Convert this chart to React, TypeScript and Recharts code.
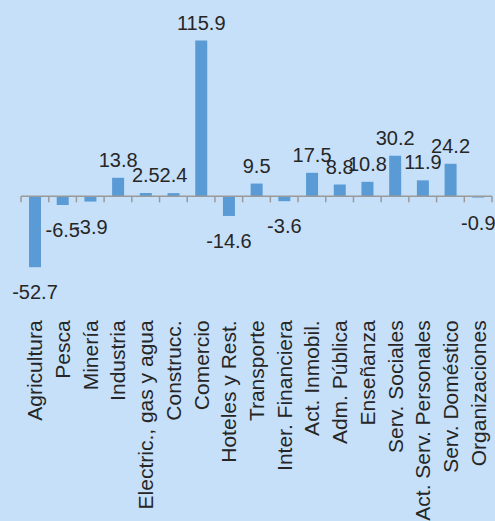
import React from 'react';
import { BarChart, Bar, XAxis, YAxis, ReferenceLine, LabelList } from 'recharts';

// Sectores y variación
const SECTORES = [
  'Agricultura',
  'Pesca',
  'Minería',
  'Industria',
  'Electric., gas y agua',
  'Construcc.',
  'Comercio',
  'Hoteles y Rest.',
  'Transporte',
  'Inter. Financiera',
  'Act. Inmobil.',
  'Adm. Pública',
  'Enseñanza',
  'Serv. Sociales',
  'Act. Serv. Personales',
  'Serv. Doméstico',
  'Organizaciones',
];
const VARIACION = [-52.7, -6.5, -3.9, 13.8, 2.5, 2.4, 115.9, -14.6, 9.5, -3.6, 17.5, 8.8, 10.8, 30.2, 11.9, 24.2, -0.9];
const Y_DOMAIN = [-60, 120];

const data = SECTORES.map((name, i) => ({ name, value: VARIACION[i] }));

const W = 495;
const H = 521;
const M = { top: 35, right: 3, bottom: 0, left: 21 };
const X_AXIS_H = 244;
const PLOT_W = W - M.left - M.right;
const PLOT_H = H - M.top - M.bottom - X_AXIS_H;
const BAND = PLOT_W / SECTORES.length;
const ZERO_Y = M.top + PLOT_H * (Y_DOMAIN[1] / (Y_DOMAIN[1] - Y_DOMAIN[0]));
const LABEL_Y = ZERO_Y + 124;

const FONT = '"Liberation Sans", Arial, sans-serif';
const TEXT = '#262626';
const AXIS = '#9a9a9a';

const CategoryTick = (props: any) => {
  const { x, payload, index } = props;
  const left = x - BAND / 2;
  return (
    <g>
      <line x1={left} x2={left} y1={ZERO_Y} y2={ZERO_Y + 6} stroke={AXIS} strokeWidth={1.5} />
      {index === SECTORES.length - 1 && (
        <line x1={x + BAND / 2} x2={x + BAND / 2} y1={ZERO_Y} y2={ZERO_Y + 6} stroke={AXIS} strokeWidth={1.5} />
      )}
      <text
        transform={`translate(${x},${LABEL_Y}) rotate(-90)`}
        textAnchor="end"
        dominantBaseline="central"
        fontSize={21}
        fontFamily={FONT}
        fill={TEXT}
      >
        {payload.value}
      </text>
    </g>
  );
};

const ValueLabel = (props: any) => {
  const { x, y, width, height, value } = props;
  const top = Math.min(y, y + height);
  const bottom = Math.max(y, y + height);
  const cy = value >= 0 ? top - 18 : bottom + 25;
  return (
    <text
      x={x + width / 2}
      y={cy}
      textAnchor="middle"
      dominantBaseline="central"
      fontSize={20}
      fontFamily={FONT}
      fill={TEXT}
    >
      {value}
    </text>
  );
};

export default function App() {
  return (
    <div style={{ position: 'absolute', left: 0, top: 0, width: W, height: H, background: '#c6e0f9' }}>
      <BarChart width={W} height={H} data={data} margin={M}>
        <XAxis
          dataKey="name"
          interval={0}
          height={X_AXIS_H}
          axisLine={false}
          tickLine={false}
          tick={<CategoryTick />}
        />
        <YAxis hide domain={Y_DOMAIN} />
        <ReferenceLine y={0} stroke={AXIS} strokeWidth={1.5} />
        <Bar dataKey="value" fill="#5b9bd5" barSize={12} isAnimationActive={false}>
          <LabelList dataKey="value" content={<ValueLabel />} />
        </Bar>
      </BarChart>
    </div>
  );
}
